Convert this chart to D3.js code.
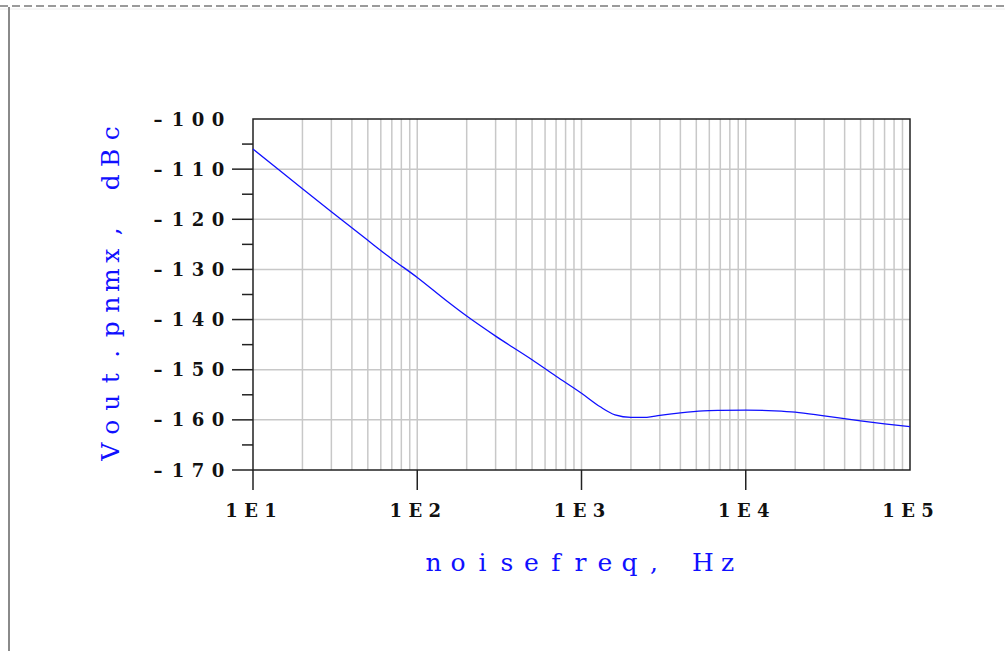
<!DOCTYPE html>
<html>
<head>
<meta charset="utf-8">
<script src="https://cdn.jsdelivr.net/npm/d3@7"></script>
<style>
  body { margin: 0; background: #fff; }
</style>
</head>
<body>
<div id="chart"></div>
<script>
// curve
var freqs = [10, 15, 20, 30, 50, 70, 100, 150, 200, 300, 500, 700, 1000, 1300, 1600, 2000, 2500,
  3000, 4000, 5500, 7000, 10000, 15000, 20000, 30000, 50000, 70000, 100000];
var pnmx = [-106.0, -110.6, -113.9, -118.5, -124.2, -127.9, -131.6, -136.2, -139.3, -143.3, -148.0, -151.3, -154.7, -157.4, -159.0, -159.5, -159.5,
  -159.1, -158.6, -158.2, -158.1, -158.05, -158.2, -158.45, -159.2, -160.2, -160.8, -161.35];

var xTicks = [10, 100, 1000, 10000, 100000];
var xTickLabels = ["1E1", "1E2", "1E3", "1E4", "1E5"];
var yTicks = [-100, -110, -120, -130, -140, -150, -160, -170];
var yMinor = [-105, -115, -125, -135, -145, -155, -165];

var svgWidth = 1005, svgHeight = 651;
var margin = { top: 119, left: 253 };
var width = 657, height = 351;
var blue = "#1010ff";

var svg = d3.select("#chart").append("svg")
  .attr("width", svgWidth)
  .attr("height", svgHeight);

// window frame
svg.append("line").attr("x1", 0).attr("x2", svgWidth).attr("y1", 6).attr("y2", 6)
  .attr("stroke", "#9a9a9a").attr("stroke-width", 2).attr("stroke-dasharray", "8,4");
svg.append("line").attr("x1", 0).attr("x2", svgWidth).attr("y1", 9).attr("y2", 9)
  .attr("stroke", "#eeeeee").attr("stroke-width", 1);
svg.append("line").attr("x1", 9).attr("x2", 9).attr("y1", 7).attr("y2", svgHeight)
  .attr("stroke", "#8a8a8a").attr("stroke-width", 2);

var chart = svg.append("g")
  .attr("transform", `translate(${margin.left}, ${margin.top})`);

var x = d3.scaleLog().domain([10, 100000]).range([0, width]);
var y = d3.scaleLinear().domain([-170, -100]).range([height, 0]);

// grid
var gridX = [];
for (var d = 10; d < 100000; d *= 10) {
  for (var k = 1; k <= 9; k++) if (!(d == 10 && k == 1)) gridX.push(d * k);
}
chart.selectAll(".gx").data(gridX).enter().append("line")
  .attr("x1", f => x(f)).attr("x2", f => x(f))
  .attr("y1", 0).attr("y2", height)
  .attr("stroke", "#c8c8c8").attr("stroke-width", 1.5);
chart.selectAll(".gy").data(yTicks.slice(1, -1)).enter().append("line")
  .attr("x1", 0).attr("x2", width)
  .attr("y1", v => y(v)).attr("y2", v => y(v))
  .attr("stroke", "#c8c8c8").attr("stroke-width", 1.5);

// frame
chart.append("rect").attr("width", width).attr("height", height)
  .attr("fill", "none").attr("stroke", "#222").attr("stroke-width", 1.5);

// ticks
chart.selectAll(".ty").data(yTicks.slice(1)).enter().append("line")
  .attr("x1", -21).attr("x2", 0)
  .attr("y1", v => y(v)).attr("y2", v => y(v))
  .attr("stroke", "#222").attr("stroke-width", 1.5);
chart.selectAll(".tym").data(yMinor).enter().append("line")
  .attr("x1", -11).attr("x2", 0)
  .attr("y1", v => y(v)).attr("y2", v => y(v))
  .attr("stroke", "#222").attr("stroke-width", 1.5);
chart.selectAll(".tx").data(xTicks.slice(0, -1)).enter().append("line")
  .attr("x1", f => x(f)).attr("x2", f => x(f))
  .attr("y1", height).attr("y2", height + 20)
  .attr("stroke", "#222").attr("stroke-width", 1.5);

// spaced out text, one glyph per fixed cell
function spaced(g, str, cx, cy, pitch, anchor) {
  var chars = str.split("");
  var n = chars.length;
  var xs = chars.map(function(c, i) {
    if (anchor == "end") return cx - (n - 1 - i) * pitch;
    return cx + (i - (n - 1) / 2) * pitch;
  });
  return g.append("text")
    .attr("x", xs.join(" "))
    .attr("y", cy)
    .attr("text-anchor", "middle")
    .text(str);
}

yTicks.forEach(function(v) {
  spaced(chart, String(v).replace("-", "\u2013"), -35, y(v) + 6.5, 20, "end")
    .attr("font-family", "DejaVu Serif").attr("font-weight", "bold")
    .attr("font-size", 18).attr("fill", "#111");
});
xTicks.forEach(function(f, i) {
  spaced(chart, xTickLabels[i], x(f) - 2, height + 47, 19.5, "middle")
    .attr("font-family", "DejaVu Serif").attr("font-weight", "bold")
    .attr("font-size", 18).attr("fill", "#111");
});

// axis titles
spaced(chart, "noisefreq, Hz", width / 2 - 1, height + 101, 24.5, "middle")
  .attr("font-family", "DejaVu Serif").attr("font-size", 25).attr("fill", blue);
spaced(chart.append("g").attr("transform", "rotate(-90)"), "Vout.pnmx, dBc", -height / 2 + 2, -134, 24.5, "middle")
  .attr("font-family", "DejaVu Serif").attr("font-size", 25).attr("fill", blue);

// curve
var line = d3.line()
  .x((d, i) => x(freqs[i]))
  .y(d => y(d))
  .curve(d3.curveMonotoneX);
chart.append("path")
  .datum(pnmx)
  .attr("d", line)
  .attr("fill", "none")
  .attr("stroke", blue)
  .attr("stroke-width", 1.3);
</script>
</body>
</html>
